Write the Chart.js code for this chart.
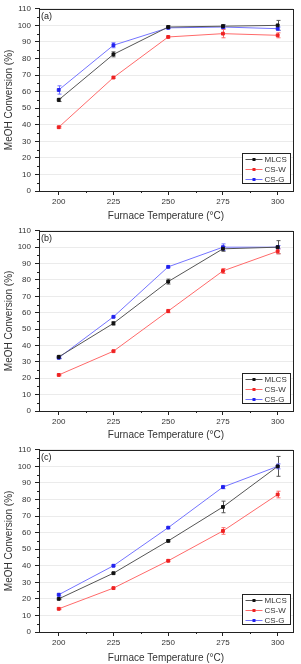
<!DOCTYPE html>
<html>
<head>
<meta charset="utf-8">
<script src="https://cdn.jsdelivr.net/npm/chart.js@4.4.0/dist/chart.umd.min.js"></script>
<style>
  html, body { margin: 0; padding: 0; background: #fff; width: 301px; height: 664px; overflow: hidden; }
  .panel { position: absolute; left: 0; width: 301px; }
</style>
</head>
<body>
<div class="panel" style="top:0;height:222px"><canvas id="chartA"></canvas></div>
<div class="panel" style="top:222px;height:219px"><canvas id="chartB"></canvas></div>
<div class="panel" style="top:441px;height:223px"><canvas id="chartC"></canvas></div>
<script>
// furnace temperatures (x) and series names
const temps = [200, 225, 250, 275, 300];
const seriesNames = ['MLCS', 'CS-W', 'CS-G'];

// panel (a)
const mlcsA = [55, 82.5, 99, 99.5, 100];
const cswA  = [38.5, 68.5, 93, 95, 94];
const csgA  = [61, 88, 98.5, 99, 98];
const mlcsErrA = [1, 1.5, 0.8, 1, 3];
const cswErrA  = [0.5, 0.5, 0.5, 2.5, 1.5];
const csgErrA  = [2.5, 1.5, 0.5, 1, 1];

// panel (b)
const mlcsB = [33, 53.5, 79, 99, 100];
const cswB  = [22, 36.5, 61, 85.5, 97.5];
const csgB  = [32.5, 57.5, 88, 100, 100];
const mlcsErrB = [1, 1, 1.5, 1.5, 4];
const cswErrB  = [0.5, 0.5, 1, 1.5, 1.5];
const csgErrB  = [0.5, 0.5, 0.5, 2, 1];

// panel (c)
const mlcsC = [20, 35.5, 55, 75.5, 100];
const cswC  = [14, 26.5, 43, 61, 83];
const csgC  = [22.5, 40, 63, 87.5, 100];
const mlcsErrC = [0.5, 0.5, 0.5, 3.5, 6];
const cswErrC  = [0.5, 0.5, 0.5, 2, 2];
const csgErrC  = [0.8, 0.5, 0.5, 1, 1.5];

const lineColors = ['#555555', '#ff6a6a', '#7474ff'];
const markColors = ['#111111', '#ee2222', '#2222ee'];

Chart.defaults.font.family = '"Liberation Sans", Arial, sans-serif';

const extras = {
  id: 'extras',
  beforeDatasetsDraw(chart) {
    const ctx = chart.ctx, y = chart.scales.y, x = chart.scales.x;
    ctx.save();
    ctx.lineWidth = 1;
    chart.data.datasets.forEach((ds) => {
      ctx.strokeStyle = ds.borderColor;
      ds.data.forEach((p, j) => {
        const e = ds.errors[j];
        const px = Math.round(x.getPixelForValue(p.x)) + 0.5;
        const top = y.getPixelForValue(p.y + e);
        const bot = y.getPixelForValue(p.y - e);
        ctx.beginPath();
        ctx.moveTo(px, top); ctx.lineTo(px, bot);
        ctx.moveTo(px - 2, top); ctx.lineTo(px + 2, top);
        ctx.moveTo(px - 2, bot); ctx.lineTo(px + 2, bot);
        ctx.stroke();
      });
    });
    ctx.restore();
  },
  afterDraw(chart, args, opts) {
    const ctx = chart.ctx, a = chart.chartArea;
    const x = chart.scales.x, y = chart.scales.y;
    ctx.save();
    // frame
    ctx.strokeStyle = '#222';
    ctx.lineWidth = 1;
    ctx.strokeRect(Math.round(a.left) + 0.5, Math.round(a.top) + 0.5, Math.round(a.right - a.left), Math.round(a.bottom - a.top));
    // minor ticks
    ctx.beginPath();
    for (let v = 5; v < 110; v += 10) {
      const py = Math.round(y.getPixelForValue(v)) + 0.5;
      ctx.moveTo(a.left - 2, py); ctx.lineTo(a.left, py);
    }
    for (let i = 0; i < temps.length - 1; i++) {
      const px = Math.round(x.getPixelForValue((temps[i] + temps[i + 1]) / 2)) + 0.5;
      ctx.moveTo(px, a.bottom); ctx.lineTo(px, a.bottom + 2);
    }
    ctx.stroke();
    // panel letter
    ctx.fillStyle = '#222';
    ctx.font = '9px "Liberation Sans", Arial, sans-serif';
    ctx.textBaseline = 'middle';
    ctx.fillText(opts.letter, a.left + 2, a.top + 8);
    // legend box
    const bw = 48, bh = 30;
    const bx = Math.round(a.right - 3 - bw) + 0.5, by = Math.round(a.bottom - 8 - bh) + 0.5;
    ctx.fillStyle = '#fff';
    ctx.fillRect(bx, by, bw, bh);
    ctx.strokeStyle = '#222';
    ctx.strokeRect(bx, by, bw, bh);
    ctx.font = '8px "Liberation Sans", Arial, sans-serif';
    chart.data.datasets.forEach((ds, i) => {
      const ry = Math.round(by + 5 + i * 10) + 0.5;
      ctx.strokeStyle = ds.borderColor;
      ctx.beginPath();
      ctx.moveTo(bx + 3, ry); ctx.lineTo(bx + 20, ry);
      ctx.stroke();
      ctx.fillStyle = ds.pointBackgroundColor;
      ctx.fillRect(bx + 10, ry - 1.5, 3, 3);
      ctx.fillStyle = '#333';
      ctx.fillText(ds.label, bx + 22, ry + 0.5);
    });
    ctx.restore();
  }
};

function panel(id, letter, values, errs, xHeight) {
  const ctx = document.getElementById(id).getContext('2d');
  new Chart(ctx, {
    type: 'line',
    data: {
      datasets: seriesNames.map((name, i) => ({
        label: name,
        data: temps.map((t, j) => ({ x: t, y: values[i][j] })),
        errors: errs[i],
        borderColor: lineColors[i],
        borderWidth: 1,
        pointStyle: 'rect',
        pointRadius: 2,
        pointBorderWidth: 1,
        pointBackgroundColor: markColors[i],
        pointBorderColor: markColors[i],
        tension: 0
      }))
    },
    options: {
      responsive: true,
      maintainAspectRatio: false,
      animation: false,
      events: [],
      layout: { padding: { top: 7, right: 8, left: 0, bottom: 0 } },
      plugins: {
        legend: { display: false },
        tooltip: { enabled: false },
        extras: { letter: letter }
      },
      scales: {
        x: {
          type: 'linear',
          min: 191,
          max: 307,
          afterBuildTicks: (s) => { s.ticks = temps.map(v => ({ value: v })); },
          afterFit: (s) => { s.height = xHeight; },
          grid: { drawOnChartArea: false, tickColor: '#222', tickLength: 4 },
          border: { color: '#222' },
          ticks: { padding: 2, color: '#333', font: { size: 8 } },
          title: { display: true, text: 'Furnace Temperature (°C)', color: '#333', font: { size: 10 }, padding: 0 }
        },
        y: {
          min: 0,
          max: 110,
          afterFit: (s) => { s.width = 39; },
          grid: { color: '#ebebeb', tickColor: '#222', tickLength: 4 },
          border: { color: '#222' },
          ticks: { stepSize: 10, padding: 4, color: '#333', font: { size: 8 } },
          title: { display: true, text: 'MeOH Conversion (%)', color: '#333', font: { size: 10 }, padding: { top: 3, bottom: 0 } }
        }
      }
    },
    plugins: [extras]
  });
}

panel('chartA', '(a)', [mlcsA, cswA, csgA], [mlcsErrA, cswErrA, csgErrA], 31);
panel('chartB', '(b)', [mlcsB, cswB, csgB], [mlcsErrB, cswErrB, csgErrB], 30);
panel('chartC', '(c)', [mlcsC, cswC, csgC], [mlcsErrC, cswErrC, csgErrC], 32);
</script>
</body>
</html>
